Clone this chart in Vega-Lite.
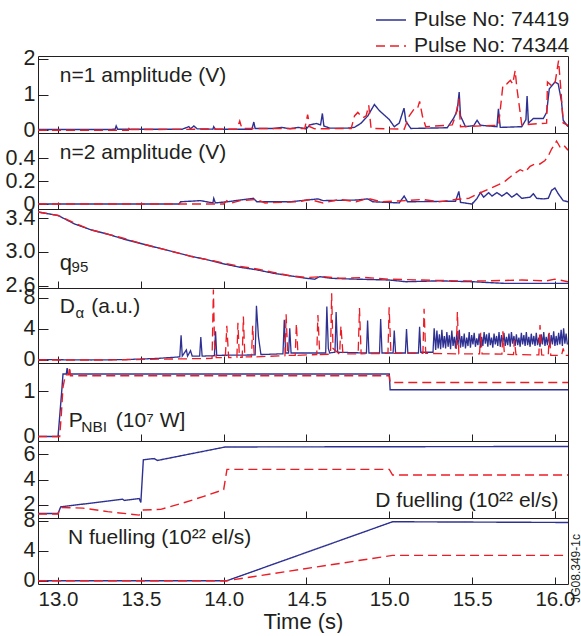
{
"$schema":"https://vega.github.io/schema/vega-lite/v6.json",
"padding":{"left":4,"top":3,"right":0,"bottom":0},
"background":"white",
"config":{
"font":"Liberation Sans",
"view":{"stroke":"#231f20","strokeWidth":1},
"axis":{"labelFont":"Liberation Sans","labelFontSize":20.5,"labelColor":"#231f20","tickColor":"#231f20","tickWidth":1,"domain":false,"grid":false,"labelOverlap":false,"titleFont":"Liberation Sans","titleFontSize":22,"titleFontWeight":"normal","titleColor":"#231f20"},
"axisY":{"tickSize":-10,"labelPadding":13,"labelFontSize":21.5},
"axisX":{"tickSize":-7,"labelPadding":12},
"legend":{"labelFont":"Liberation Sans","labelFontSize":21,"labelColor":"#231f20","symbolType":"stroke","symbolSize":900,"symbolStrokeWidth":1.5,"rowPadding":-6,"labelOffset":7}
},
"data":{"values":[
{"p":"n1","s":"74419","t":12.879,"v":0.02},{"p":"n1","s":"74419","t":13.3,"v":0.02},{"p":"n1","s":"74419","t":13.345,"v":0.03},{"p":"n1","s":"74419","t":13.351,"v":0.12},{"p":"n1","s":"74419","t":13.36,"v":0.03},{"p":"n1","s":"74419","t":13.75,"v":0.03},{"p":"n1","s":"74419","t":13.79,"v":0.1},{"p":"n1","s":"74419","t":13.8,"v":0.04},{"p":"n1","s":"74419","t":13.82,"v":0.12},{"p":"n1","s":"74419","t":13.84,"v":0.04},{"p":"n1","s":"74419","t":13.935,"v":0.03},{"p":"n1","s":"74419","t":13.94,"v":0.1},{"p":"n1","s":"74419","t":13.95,"v":0.03},{"p":"n1","s":"74419","t":14.17,"v":0.03},{"p":"n1","s":"74419","t":14.182,"v":0.23},{"p":"n1","s":"74419","t":14.19,"v":0.05},{"p":"n1","s":"74419","t":14.3,"v":0.05},{"p":"n1","s":"74419","t":14.35,"v":0.08},{"p":"n1","s":"74419","t":14.4,"v":0.04},{"p":"n1","s":"74419","t":14.45,"v":0.08},{"p":"n1","s":"74419","t":14.5,"v":0.04},{"p":"n1","s":"74419","t":14.52,"v":0.15},{"p":"n1","s":"74419","t":14.56,"v":0.19},{"p":"n1","s":"74419","t":14.585,"v":0.15},{"p":"n1","s":"74419","t":14.596,"v":0.47},{"p":"n1","s":"74419","t":14.605,"v":0.12},{"p":"n1","s":"74419","t":14.64,"v":0.06},{"p":"n1","s":"74419","t":14.75,"v":0.06},{"p":"n1","s":"74419","t":14.79,"v":0.08},{"p":"n1","s":"74419","t":14.83,"v":0.2},{"p":"n1","s":"74419","t":14.87,"v":0.4},{"p":"n1","s":"74419","t":14.91,"v":0.72},{"p":"n1","s":"74419","t":14.94,"v":0.55},{"p":"n1","s":"74419","t":15.0,"v":0.3},{"p":"n1","s":"74419","t":15.03,"v":0.1},{"p":"n1","s":"74419","t":15.06,"v":0.2},{"p":"n1","s":"74419","t":15.089,"v":0.62},{"p":"n1","s":"74419","t":15.1,"v":0.25},{"p":"n1","s":"74419","t":15.13,"v":0.05},{"p":"n1","s":"74419","t":15.35,"v":0.07},{"p":"n1","s":"74419","t":15.39,"v":0.35},{"p":"n1","s":"74419","t":15.41,"v":0.55},{"p":"n1","s":"74419","t":15.422,"v":1.07},{"p":"n1","s":"74419","t":15.43,"v":0.4},{"p":"n1","s":"74419","t":15.46,"v":0.1},{"p":"n1","s":"74419","t":15.51,"v":0.13},{"p":"n1","s":"74419","t":15.53,"v":0.28},{"p":"n1","s":"74419","t":15.55,"v":0.14},{"p":"n1","s":"74419","t":15.65,"v":0.1},{"p":"n1","s":"74419","t":15.659,"v":0.6},{"p":"n1","s":"74419","t":15.67,"v":0.08},{"p":"n1","s":"74419","t":15.8,"v":0.1},{"p":"n1","s":"74419","t":15.825,"v":0.3},{"p":"n1","s":"74419","t":15.832,"v":0.96},{"p":"n1","s":"74419","t":15.84,"v":0.2},{"p":"n1","s":"74419","t":15.87,"v":0.33},{"p":"n1","s":"74419","t":15.93,"v":0.33},{"p":"n1","s":"74419","t":15.95,"v":0.5},{"p":"n1","s":"74419","t":15.966,"v":1.16},{"p":"n1","s":"74419","t":16.0,"v":1.35},{"p":"n1","s":"74419","t":16.02,"v":1.3},{"p":"n1","s":"74419","t":16.04,"v":0.8},{"p":"n1","s":"74419","t":16.05,"v":0.28},{"p":"n1","s":"74419","t":16.079,"v":0.1},
{"p":"n1","s":"74344","t":12.879,"v":0.0},{"p":"n1","s":"74344","t":13.425,"v":0.0},{"p":"n1","s":"74344","t":13.432,"v":0.12},{"p":"n1","s":"74344","t":13.44,"v":0.02},{"p":"n1","s":"74344","t":14.08,"v":0.03},{"p":"n1","s":"74344","t":14.097,"v":0.26},{"p":"n1","s":"74344","t":14.11,"v":0.05},{"p":"n1","s":"74344","t":14.49,"v":0.05},{"p":"n1","s":"74344","t":14.507,"v":0.44},{"p":"n1","s":"74344","t":14.52,"v":0.1},{"p":"n1","s":"74344","t":14.55,"v":0.04},{"p":"n1","s":"74344","t":14.77,"v":0.05},{"p":"n1","s":"74344","t":14.79,"v":0.4},{"p":"n1","s":"74344","t":14.81,"v":0.5},{"p":"n1","s":"74344","t":14.84,"v":0.35},{"p":"n1","s":"74344","t":14.86,"v":0.4},{"p":"n1","s":"74344","t":14.876,"v":0.7},{"p":"n1","s":"74344","t":14.89,"v":0.05},{"p":"n1","s":"74344","t":15.09,"v":0.03},{"p":"n1","s":"74344","t":15.12,"v":0.4},{"p":"n1","s":"74344","t":15.149,"v":0.59},{"p":"n1","s":"74344","t":15.17,"v":0.6},{"p":"n1","s":"74344","t":15.183,"v":0.81},{"p":"n1","s":"74344","t":15.2,"v":0.4},{"p":"n1","s":"74344","t":15.22,"v":0.1},{"p":"n1","s":"74344","t":15.38,"v":0.15},{"p":"n1","s":"74344","t":15.4,"v":0.4},{"p":"n1","s":"74344","t":15.42,"v":0.88},{"p":"n1","s":"74344","t":15.43,"v":0.1},{"p":"n1","s":"74344","t":15.66,"v":0.14},{"p":"n1","s":"74344","t":15.686,"v":1.26},{"p":"n1","s":"74344","t":15.71,"v":1.3},{"p":"n1","s":"74344","t":15.731,"v":1.4},{"p":"n1","s":"74344","t":15.745,"v":1.3},{"p":"n1","s":"74344","t":15.76,"v":1.67},{"p":"n1","s":"74344","t":15.77,"v":1.2},{"p":"n1","s":"74344","t":15.8,"v":0.15},{"p":"n1","s":"74344","t":15.95,"v":0.2},{"p":"n1","s":"74344","t":15.955,"v":1.35},{"p":"n1","s":"74344","t":15.98,"v":1.25},{"p":"n1","s":"74344","t":16.0,"v":1.3},{"p":"n1","s":"74344","t":16.022,"v":1.95},{"p":"n1","s":"74344","t":16.035,"v":1.2},{"p":"n1","s":"74344","t":16.05,"v":0.2},{"p":"n1","s":"74344","t":16.079,"v":0.14},
{"p":"n2","s":"74419","t":12.879,"v":0.0},{"p":"n2","s":"74419","t":13.73,"v":0.0},{"p":"n2","s":"74419","t":13.74,"v":0.02},{"p":"n2","s":"74419","t":13.86,"v":0.03},{"p":"n2","s":"74419","t":13.935,"v":0.01},{"p":"n2","s":"74419","t":13.94,"v":0.05},{"p":"n2","s":"74419","t":13.95,"v":0.01},{"p":"n2","s":"74419","t":14.02,"v":0.02},{"p":"n2","s":"74419","t":14.18,"v":0.05},{"p":"n2","s":"74419","t":14.2,"v":0.02},{"p":"n2","s":"74419","t":14.4,"v":0.02},{"p":"n2","s":"74419","t":14.57,"v":0.045},{"p":"n2","s":"74419","t":14.6,"v":0.03},{"p":"n2","s":"74419","t":14.8,"v":0.035},{"p":"n2","s":"74419","t":14.87,"v":0.045},{"p":"n2","s":"74419","t":14.9,"v":0.02},{"p":"n2","s":"74419","t":15.06,"v":0.01},{"p":"n2","s":"74419","t":15.09,"v":0.07},{"p":"n2","s":"74419","t":15.11,"v":0.02},{"p":"n2","s":"74419","t":15.4,"v":0.025},{"p":"n2","s":"74419","t":15.42,"v":0.11},{"p":"n2","s":"74419","t":15.43,"v":0.015},{"p":"n2","s":"74419","t":15.5,"v":0.0},{"p":"n2","s":"74419","t":15.53,"v":0.05},{"p":"n2","s":"74419","t":15.55,"v":0.1},{"p":"n2","s":"74419","t":15.57,"v":0.06},{"p":"n2","s":"74419","t":15.6,"v":0.1},{"p":"n2","s":"74419","t":15.62,"v":0.07},{"p":"n2","s":"74419","t":15.65,"v":0.1},{"p":"n2","s":"74419","t":15.68,"v":0.07},{"p":"n2","s":"74419","t":15.71,"v":0.1},{"p":"n2","s":"74419","t":15.74,"v":0.06},{"p":"n2","s":"74419","t":15.77,"v":0.09},{"p":"n2","s":"74419","t":15.8,"v":0.05},{"p":"n2","s":"74419","t":15.85,"v":0.06},{"p":"n2","s":"74419","t":15.87,"v":0.09},{"p":"n2","s":"74419","t":15.89,"v":0.05},{"p":"n2","s":"74419","t":15.93,"v":0.045},{"p":"n2","s":"74419","t":15.96,"v":0.05},{"p":"n2","s":"74419","t":15.98,"v":0.12},{"p":"n2","s":"74419","t":16.0,"v":0.14},{"p":"n2","s":"74419","t":16.02,"v":0.09},{"p":"n2","s":"74419","t":16.05,"v":0.03},{"p":"n2","s":"74419","t":16.079,"v":0.02},
{"p":"n2","s":"74344","t":12.879,"v":0.0},{"p":"n2","s":"74344","t":14.0,"v":0.0},{"p":"n2","s":"74344","t":14.02,"v":0.03},{"p":"n2","s":"74344","t":14.05,"v":0.01},{"p":"n2","s":"74344","t":14.1,"v":0.03},{"p":"n2","s":"74344","t":14.2,"v":0.04},{"p":"n2","s":"74344","t":14.25,"v":0.01},{"p":"n2","s":"74344","t":14.45,"v":0.02},{"p":"n2","s":"74344","t":14.52,"v":0.04},{"p":"n2","s":"74344","t":14.6,"v":0.01},{"p":"n2","s":"74344","t":14.7,"v":0.04},{"p":"n2","s":"74344","t":14.8,"v":0.02},{"p":"n2","s":"74344","t":14.87,"v":0.05},{"p":"n2","s":"74344","t":14.95,"v":0.02},{"p":"n2","s":"74344","t":15.1,"v":0.03},{"p":"n2","s":"74344","t":15.2,"v":0.04},{"p":"n2","s":"74344","t":15.3,"v":0.02},{"p":"n2","s":"74344","t":15.4,"v":0.04},{"p":"n2","s":"74344","t":15.48,"v":0.05},{"p":"n2","s":"74344","t":15.52,"v":0.08},{"p":"n2","s":"74344","t":15.6,"v":0.13},{"p":"n2","s":"74344","t":15.66,"v":0.17},{"p":"n2","s":"74344","t":15.7,"v":0.2},{"p":"n2","s":"74344","t":15.75,"v":0.26},{"p":"n2","s":"74344","t":15.79,"v":0.3},{"p":"n2","s":"74344","t":15.82,"v":0.28},{"p":"n2","s":"74344","t":15.85,"v":0.33},{"p":"n2","s":"74344","t":15.88,"v":0.35},{"p":"n2","s":"74344","t":15.91,"v":0.35},{"p":"n2","s":"74344","t":15.94,"v":0.38},{"p":"n2","s":"74344","t":15.96,"v":0.42},{"p":"n2","s":"74344","t":15.98,"v":0.48},{"p":"n2","s":"74344","t":16.01,"v":0.55},{"p":"n2","s":"74344","t":16.03,"v":0.5},{"p":"n2","s":"74344","t":16.05,"v":0.52},{"p":"n2","s":"74344","t":16.079,"v":0.47},
{"p":"q","s":"74419","t":12.879,"v":3.47},{"p":"q","s":"74419","t":13.0,"v":3.43},{"p":"q","s":"74419","t":13.1,"v":3.33},{"p":"q","s":"74419","t":13.2,"v":3.26},{"p":"q","s":"74419","t":13.3,"v":3.21},{"p":"q","s":"74419","t":13.4,"v":3.15},{"p":"q","s":"74419","t":13.5,"v":3.1},{"p":"q","s":"74419","t":13.6,"v":3.05},{"p":"q","s":"74419","t":13.7,"v":3.0},{"p":"q","s":"74419","t":13.8,"v":2.95},{"p":"q","s":"74419","t":13.9,"v":2.91},{"p":"q","s":"74419","t":14.0,"v":2.86},{"p":"q","s":"74419","t":14.1,"v":2.82},{"p":"q","s":"74419","t":14.2,"v":2.79},{"p":"q","s":"74419","t":14.3,"v":2.75},{"p":"q","s":"74419","t":14.4,"v":2.72},{"p":"q","s":"74419","t":14.5,"v":2.69},{"p":"q","s":"74419","t":14.55,"v":2.68},{"p":"q","s":"74419","t":14.58,"v":2.71},{"p":"q","s":"74419","t":14.65,"v":2.69},{"p":"q","s":"74419","t":14.8,"v":2.68},{"p":"q","s":"74419","t":15.0,"v":2.67},{"p":"q","s":"74419","t":15.1,"v":2.65},{"p":"q","s":"74419","t":15.3,"v":2.66},{"p":"q","s":"74419","t":15.5,"v":2.65},{"p":"q","s":"74419","t":15.7,"v":2.63},{"p":"q","s":"74419","t":15.9,"v":2.63},{"p":"q","s":"74419","t":16.079,"v":2.63},
{"p":"q","s":"74344","t":12.879,"v":3.47},{"p":"q","s":"74344","t":13.0,"v":3.43},{"p":"q","s":"74344","t":13.1,"v":3.34},{"p":"q","s":"74344","t":13.2,"v":3.26},{"p":"q","s":"74344","t":13.3,"v":3.21},{"p":"q","s":"74344","t":13.4,"v":3.16},{"p":"q","s":"74344","t":13.5,"v":3.1},{"p":"q","s":"74344","t":13.6,"v":3.05},{"p":"q","s":"74344","t":13.7,"v":3.0},{"p":"q","s":"74344","t":13.8,"v":2.95},{"p":"q","s":"74344","t":13.9,"v":2.91},{"p":"q","s":"74344","t":14.0,"v":2.87},{"p":"q","s":"74344","t":14.1,"v":2.83},{"p":"q","s":"74344","t":14.2,"v":2.8},{"p":"q","s":"74344","t":14.3,"v":2.76},{"p":"q","s":"74344","t":14.4,"v":2.72},{"p":"q","s":"74344","t":14.5,"v":2.7},{"p":"q","s":"74344","t":14.6,"v":2.71},{"p":"q","s":"74344","t":14.7,"v":2.69},{"p":"q","s":"74344","t":14.85,"v":2.7},{"p":"q","s":"74344","t":15.0,"v":2.68},{"p":"q","s":"74344","t":15.2,"v":2.67},{"p":"q","s":"74344","t":15.4,"v":2.66},{"p":"q","s":"74344","t":15.6,"v":2.66},{"p":"q","s":"74344","t":15.8,"v":2.67},{"p":"q","s":"74344","t":15.95,"v":2.66},{"p":"q","s":"74344","t":16.0,"v":2.68},{"p":"q","s":"74344","t":16.079,"v":2.65},
{"p":"da","s":"74419","t":12.879,"v":0.05},{"p":"da","s":"74419","t":13.2,"v":0.0},{"p":"da","s":"74419","t":13.4,"v":0.05},{"p":"da","s":"74419","t":13.6,"v":0.2},{"p":"da","s":"74419","t":13.735,"v":0.4},{"p":"da","s":"74419","t":13.743,"v":3.2},{"p":"da","s":"74419","t":13.75,"v":0.5},{"p":"da","s":"74419","t":13.775,"v":1.3},{"p":"da","s":"74419","t":13.782,"v":0.5},{"p":"da","s":"74419","t":13.8,"v":1.2},{"p":"da","s":"74419","t":13.81,"v":0.5},{"p":"da","s":"74419","t":13.855,"v":0.5},{"p":"da","s":"74419","t":13.862,"v":2.95},{"p":"da","s":"74419","t":13.87,"v":0.5},{"p":"da","s":"74419","t":13.944,"v":0.55},{"p":"da","s":"74419","t":13.951,"v":3.7},{"p":"da","s":"74419","t":13.958,"v":0.6},{"p":"da","s":"74419","t":14.19,"v":0.65},{"p":"da","s":"74419","t":14.198,"v":7.0},{"p":"da","s":"74419","t":14.21,"v":3.0},{"p":"da","s":"74419","t":14.225,"v":0.7},{"p":"da","s":"74419","t":14.358,"v":0.8},{"p":"da","s":"74419","t":14.366,"v":5.2},{"p":"da","s":"74419","t":14.374,"v":0.9},{"p":"da","s":"74419","t":14.392,"v":0.9},{"p":"da","s":"74419","t":14.399,"v":4.1},{"p":"da","s":"74419","t":14.407,"v":0.9},{"p":"da","s":"74419","t":14.616,"v":0.9},{"p":"da","s":"74419","t":14.623,"v":6.9},{"p":"da","s":"74419","t":14.632,"v":1.5},{"p":"da","s":"74419","t":14.64,"v":0.9},{"p":"da","s":"74419","t":14.672,"v":1.0},{"p":"da","s":"74419","t":14.679,"v":6.2},{"p":"da","s":"74419","t":14.688,"v":1.0},{"p":"da","s":"74419","t":14.862,"v":0.9},{"p":"da","s":"74419","t":14.869,"v":5.1},{"p":"da","s":"74419","t":14.877,"v":0.9},{"p":"da","s":"74419","t":14.941,"v":0.9},{"p":"da","s":"74419","t":14.948,"v":5.3},{"p":"da","s":"74419","t":14.956,"v":0.9},{"p":"da","s":"74419","t":15.023,"v":0.9},{"p":"da","s":"74419","t":15.03,"v":3.8},{"p":"da","s":"74419","t":15.038,"v":0.9},{"p":"da","s":"74419","t":15.097,"v":0.9},{"p":"da","s":"74419","t":15.104,"v":4.0},{"p":"da","s":"74419","t":15.112,"v":0.9},{"p":"da","s":"74419","t":15.176,"v":0.9},{"p":"da","s":"74419","t":15.183,"v":4.3},{"p":"da","s":"74419","t":15.19,"v":1.0},{"p":"da","s":"74419","t":15.264,"v":1.0},{"p":"da","s":"74419","t":15.271,"v":4.1},
{"p":"da","s":"74419","t":15.28,"v":1.3},{"p":"da","s":"74419","t":15.2875,"v":3.8},{"p":"da","s":"74419","t":15.295,"v":1.5},{"p":"da","s":"74419","t":15.3025,"v":3.3},{"p":"da","s":"74419","t":15.31,"v":1.4},{"p":"da","s":"74419","t":15.3175,"v":3.9},{"p":"da","s":"74419","t":15.325,"v":1.6},{"p":"da","s":"74419","t":15.3325,"v":3.1},{"p":"da","s":"74419","t":15.34,"v":1.5},{"p":"da","s":"74419","t":15.3475,"v":3.6},{"p":"da","s":"74419","t":15.355,"v":1.7},{"p":"da","s":"74419","t":15.3625,"v":3.2},{"p":"da","s":"74419","t":15.37,"v":1.4},{"p":"da","s":"74419","t":15.3775,"v":3.8},{"p":"da","s":"74419","t":15.385,"v":1.8},{"p":"da","s":"74419","t":15.3925,"v":3.0},{"p":"da","s":"74419","t":15.4,"v":1.5},{"p":"da","s":"74419","t":15.4075,"v":3.5},{"p":"da","s":"74419","t":15.415,"v":1.9},{"p":"da","s":"74419","t":15.4225,"v":3.9},{"p":"da","s":"74419","t":15.43,"v":1.6},{"p":"da","s":"74419","t":15.4375,"v":3.1},{"p":"da","s":"74419","t":15.445,"v":1.7},{"p":"da","s":"74419","t":15.4525,"v":3.4},{"p":"da","s":"74419","t":15.46,"v":1.5},{"p":"da","s":"74419","t":15.4675,"v":2.9},{"p":"da","s":"74419","t":15.475,"v":1.8},{"p":"da","s":"74419","t":15.4825,"v":3.6},{"p":"da","s":"74419","t":15.49,"v":1.6},{"p":"da","s":"74419","t":15.4975,"v":3.2},{"p":"da","s":"74419","t":15.505,"v":2.0},{"p":"da","s":"74419","t":15.5125,"v":3.5},{"p":"da","s":"74419","t":15.52,"v":1.7},{"p":"da","s":"74419","t":15.5275,"v":2.8},{"p":"da","s":"74419","t":15.535,"v":1.9},{"p":"da","s":"74419","t":15.5425,"v":3.4},{"p":"da","s":"74419","t":15.55,"v":1.6},{"p":"da","s":"74419","t":15.5575,"v":3.0},{"p":"da","s":"74419","t":15.565,"v":1.8},{"p":"da","s":"74419","t":15.5725,"v":3.6},{"p":"da","s":"74419","t":15.58,"v":2.1},{"p":"da","s":"74419","t":15.5875,"v":3.3},{"p":"da","s":"74419","t":15.595,"v":1.7},{"p":"da","s":"74419","t":15.6025,"v":3.5},{"p":"da","s":"74419","t":15.61,"v":1.9},{"p":"da","s":"74419","t":15.6175,"v":2.9},{"p":"da","s":"74419","t":15.625,"v":1.6},{"p":"da","s":"74419","t":15.6325,"v":3.4},{"p":"da","s":"74419","t":15.64,"v":2.0},{"p":"da","s":"74419","t":15.6475,"v":3.1},{"p":"da","s":"74419","t":15.655,"v":1.8},{"p":"da","s":"74419","t":15.6625,"v":3.6},{"p":"da","s":"74419","t":15.67,"v":1.7},{"p":"da","s":"74419","t":15.6775,"v":3.2},{"p":"da","s":"74419","t":15.685,"v":2.0},{"p":"da","s":"74419","t":15.6925,"v":3.5},{"p":"da","s":"74419","t":15.7,"v":1.8},{"p":"da","s":"74419","t":15.7075,"v":3.0},{"p":"da","s":"74419","t":15.715,"v":1.9},{"p":"da","s":"74419","t":15.7225,"v":3.4},{"p":"da","s":"74419","t":15.73,"v":1.7},{"p":"da","s":"74419","t":15.7375,"v":3.6},{"p":"da","s":"74419","t":15.745,"v":2.1},{"p":"da","s":"74419","t":15.7525,"v":3.1},{"p":"da","s":"74419","t":15.76,"v":1.8},{"p":"da","s":"74419","t":15.7675,"v":3.3},{"p":"da","s":"74419","t":15.775,"v":1.9},{"p":"da","s":"74419","t":15.7825,"v":2.9},{"p":"da","s":"74419","t":15.79,"v":1.7},{"p":"da","s":"74419","t":15.7975,"v":3.5},{"p":"da","s":"74419","t":15.805,"v":2.0},{"p":"da","s":"74419","t":15.8125,"v":3.2},{"p":"da","s":"74419","t":15.82,"v":1.8},{"p":"da","s":"74419","t":15.8275,"v":3.6},{"p":"da","s":"74419","t":15.835,"v":1.9},{"p":"da","s":"74419","t":15.8425,"v":3.0},{"p":"da","s":"74419","t":15.85,"v":1.7},{"p":"da","s":"74419","t":15.8575,"v":3.4},{"p":"da","s":"74419","t":15.865,"v":2.0},{"p":"da","s":"74419","t":15.8725,"v":3.1},{"p":"da","s":"74419","t":15.88,"v":1.8},{"p":"da","s":"74419","t":15.8875,"v":3.5},{"p":"da","s":"74419","t":15.895,"v":1.9},{"p":"da","s":"74419","t":15.9025,"v":2.9},{"p":"da","s":"74419","t":15.91,"v":1.7},{"p":"da","s":"74419","t":15.9175,"v":3.3},{"p":"da","s":"74419","t":15.925,"v":2.0},{"p":"da","s":"74419","t":15.9325,"v":3.6},{"p":"da","s":"74419","t":15.94,"v":1.8},{"p":"da","s":"74419","t":15.9475,"v":3.0},{"p":"da","s":"74419","t":15.955,"v":1.9},{"p":"da","s":"74419","t":15.9625,"v":3.4},{"p":"da","s":"74419","t":15.97,"v":1.7},{"p":"da","s":"74419","t":15.9775,"v":3.2},{"p":"da","s":"74419","t":15.985,"v":2.0},{"p":"da","s":"74419","t":15.9925,"v":3.7},{"p":"da","s":"74419","t":16.0,"v":1.8},{"p":"da","s":"74419","t":16.0075,"v":3.1},{"p":"da","s":"74419","t":16.015,"v":1.9},{"p":"da","s":"74419","t":16.0225,"v":3.5},{"p":"da","s":"74419","t":16.03,"v":2.0},{"p":"da","s":"74419","t":16.0375,"v":3.9},{"p":"da","s":"74419","t":16.045,"v":1.8},{"p":"da","s":"74419","t":16.0525,"v":4.1},{"p":"da","s":"74419","t":16.06,"v":2.1},{"p":"da","s":"74419","t":16.0675,"v":3.4},{"p":"da","s":"74419","t":16.075,"v":2.0},
{"p":"da","s":"74344","t":12.879,"v":0.0},{"p":"da","s":"74344","t":13.3,"v":0.0},{"p":"da","s":"74344","t":13.6,"v":0.1},{"p":"da","s":"74344","t":13.93,"v":0.2},{"p":"da","s":"74344","t":13.938,"v":9.1},{"p":"da","s":"74344","t":13.945,"v":2.0},{"p":"da","s":"74344","t":13.955,"v":0.3},{"p":"da","s":"74344","t":14.01,"v":0.3},{"p":"da","s":"74344","t":14.019,"v":4.4},{"p":"da","s":"74344","t":14.03,"v":0.3},{"p":"da","s":"74344","t":14.08,"v":0.35},{"p":"da","s":"74344","t":14.086,"v":4.8},{"p":"da","s":"74344","t":14.095,"v":0.35},{"p":"da","s":"74344","t":14.112,"v":0.35},{"p":"da","s":"74344","t":14.119,"v":5.6},{"p":"da","s":"74344","t":14.128,"v":0.4},{"p":"da","s":"74344","t":14.168,"v":0.4},{"p":"da","s":"74344","t":14.175,"v":4.4},{"p":"da","s":"74344","t":14.185,"v":0.4},{"p":"da","s":"74344","t":14.37,"v":0.55},{"p":"da","s":"74344","t":14.377,"v":5.9},{"p":"da","s":"74344","t":14.387,"v":0.6},{"p":"da","s":"74344","t":14.432,"v":0.6},{"p":"da","s":"74344","t":14.439,"v":4.7},{"p":"da","s":"74344","t":14.449,"v":0.6},{"p":"da","s":"74344","t":14.562,"v":0.7},{"p":"da","s":"74344","t":14.569,"v":5.8},{"p":"da","s":"74344","t":14.58,"v":0.7},{"p":"da","s":"74344","t":14.645,"v":0.75},{"p":"da","s":"74344","t":14.652,"v":8.6},{"p":"da","s":"74344","t":14.66,"v":1.5},{"p":"da","s":"74344","t":14.7,"v":0.75},{"p":"da","s":"74344","t":14.708,"v":4.4},{"p":"da","s":"74344","t":14.72,"v":0.8},{"p":"da","s":"74344","t":14.812,"v":0.8},{"p":"da","s":"74344","t":14.82,"v":6.7},{"p":"da","s":"74344","t":14.83,"v":0.8},{"p":"da","s":"74344","t":14.992,"v":0.85},{"p":"da","s":"74344","t":14.999,"v":6.8},{"p":"da","s":"74344","t":15.01,"v":0.85},{"p":"da","s":"74344","t":15.203,"v":0.85},{"p":"da","s":"74344","t":15.21,"v":6.6},{"p":"da","s":"74344","t":15.22,"v":0.85},{"p":"da","s":"74344","t":15.404,"v":0.8},{"p":"da","s":"74344","t":15.411,"v":6.2},{"p":"da","s":"74344","t":15.42,"v":0.8},{"p":"da","s":"74344","t":15.545,"v":0.8},{"p":"da","s":"74344","t":15.552,"v":3.5},{"p":"da","s":"74344","t":15.56,"v":0.8},{"p":"da","s":"74344","t":15.68,"v":0.75},{"p":"da","s":"74344","t":15.686,"v":3.7},{"p":"da","s":"74344","t":15.695,"v":0.75},{"p":"da","s":"74344","t":15.75,"v":0.7},{"p":"da","s":"74344","t":15.755,"v":2.6},{"p":"da","s":"74344","t":15.765,"v":0.7},{"p":"da","s":"74344","t":15.903,"v":0.65},{"p":"da","s":"74344","t":15.91,"v":4.5},{"p":"da","s":"74344","t":15.92,"v":0.65},{"p":"da","s":"74344","t":15.96,"v":0.6},{"p":"da","s":"74344","t":15.966,"v":3.5},{"p":"da","s":"74344","t":15.975,"v":0.6},{"p":"da","s":"74344","t":16.04,"v":0.6},{"p":"da","s":"74344","t":16.05,"v":1.5},{"p":"da","s":"74344","t":16.06,"v":0.6},{"p":"da","s":"74344","t":16.079,"v":0.6},
{"p":"nbi","s":"74419","t":12.879,"v":0},{"p":"nbi","s":"74419","t":13.0,"v":0},{"p":"nbi","s":"74419","t":13.02,"v":0.9},{"p":"nbi","s":"74419","t":13.03,"v":1.39},{"p":"nbi","s":"74419","t":13.05,"v":1.39},{"p":"nbi","s":"74419","t":13.055,"v":1.52},{"p":"nbi","s":"74419","t":13.06,"v":1.39},{"p":"nbi","s":"74419","t":15.0,"v":1.39},{"p":"nbi","s":"74419","t":15.005,"v":1.04},{"p":"nbi","s":"74419","t":16.079,"v":1.04},
{"p":"nbi","s":"74344","t":12.879,"v":0},{"p":"nbi","s":"74344","t":13.01,"v":0},{"p":"nbi","s":"74344","t":13.02,"v":0.5},{"p":"nbi","s":"74344","t":13.03,"v":1.1},{"p":"nbi","s":"74344","t":13.045,"v":1.37},{"p":"nbi","s":"74344","t":13.065,"v":1.37},{"p":"nbi","s":"74344","t":13.07,"v":1.55},{"p":"nbi","s":"74344","t":13.075,"v":1.35},{"p":"nbi","s":"74344","t":15.0,"v":1.35},{"p":"nbi","s":"74344","t":15.005,"v":1.2},{"p":"nbi","s":"74344","t":16.079,"v":1.2},
{"p":"df","s":"74419","t":12.879,"v":1.33},{"p":"df","s":"74419","t":13.0,"v":1.33},{"p":"df","s":"74419","t":13.016,"v":1.85},{"p":"df","s":"74419","t":13.3,"v":2.3},{"p":"df","s":"74419","t":13.39,"v":2.45},{"p":"df","s":"74419","t":13.4,"v":2.35},{"p":"df","s":"74419","t":13.49,"v":2.5},{"p":"df","s":"74419","t":13.5,"v":2.2},{"p":"df","s":"74419","t":13.515,"v":5.55},{"p":"df","s":"74419","t":13.58,"v":5.65},{"p":"df","s":"74419","t":13.6,"v":5.5},{"p":"df","s":"74419","t":14.01,"v":6.56},{"p":"df","s":"74419","t":16.079,"v":6.6},
{"p":"df","s":"74344","t":12.879,"v":1.28},{"p":"df","s":"74344","t":13.0,"v":1.28},{"p":"df","s":"74344","t":13.016,"v":1.8},{"p":"df","s":"74344","t":13.15,"v":1.75},{"p":"df","s":"74344","t":13.3,"v":1.47},{"p":"df","s":"74344","t":13.49,"v":1.2},{"p":"df","s":"74344","t":13.515,"v":1.6},{"p":"df","s":"74344","t":13.62,"v":1.65},{"p":"df","s":"74344","t":13.75,"v":2.13},{"p":"df","s":"74344","t":13.88,"v":2.67},{"p":"df","s":"74344","t":14.0,"v":3.2},{"p":"df","s":"74344","t":14.02,"v":4.8},{"p":"df","s":"74344","t":15.0,"v":4.8},{"p":"df","s":"74344","t":15.02,"v":4.35},{"p":"df","s":"74344","t":16.079,"v":4.35},
{"p":"nf","s":"74419","t":12.879,"v":0},{"p":"nf","s":"74419","t":14.02,"v":0},{"p":"nf","s":"74419","t":15.02,"v":7.9},{"p":"nf","s":"74419","t":16.079,"v":7.8},
{"p":"nf","s":"74344","t":12.879,"v":0},{"p":"nf","s":"74344","t":14.02,"v":0},{"p":"nf","s":"74344","t":15.02,"v":3.4},{"p":"nf","s":"74344","t":16.079,"v":3.4}
]},
"bounds":"flush",
"spacing":0,
"resolve":{"scale":{"color":"independent","strokeDash":"independent"},"legend":{"color":"independent","strokeDash":"independent"}},
"vconcat":[
{"width":530,"height":77,"resolve":{"axis":{"x":"independent","y":"independent"}},"layer":[
{"transform":[{"filter":"datum.p==='n1'"}],"mark":{"type":"line","strokeWidth":1.4,"clip":true},
"encoding":{"x":{"field":"t","type":"quantitative","scale":{"domain":[12.879,16.079],"nice":false,"zero":false},"axis":{"values":[13,13.5,14,14.5,15,15.5,16],"labels":false,"title":null}},
"y":{"field":"v","type":"quantitative","scale":{"domain":[-0.077,2.08],"nice":false,"zero":false},"axis":{"values":[0,1,2],"format":"d","title":null,"labelOverlap":false}},
"color":{"field":"s","type":"nominal","scale":{"domain":["74419","74344"],"range":["#2e3192","#ed1c24"]},"legend":{"orient":"none","legendX":337,"legendY":-52,"title":null,"labelExpr":"'Pulse No: ' + datum.label"}},
"strokeDash":{"field":"s","type":"nominal","scale":{"domain":["74419","74344"],"range":[[1,0],[9,5]]},"legend":{"orient":"none","legendX":337,"legendY":-52,"title":null,"labelExpr":"'Pulse No: ' + datum.label"}}}},
{"data":{"values":[{}]},"mark":{"type":"text","text":"n=1 amplitude (V)","align":"left","baseline":"alphabetic","fontSize":21,"color":"#231f20"},"encoding":{"x":{"datum":13.011,"axis":null},"y":{"datum":1.34,"axis":null}}}
]},
{"width":530,"height":76,"resolve":{"axis":{"x":"independent","y":"independent"}},"layer":[
{"transform":[{"filter":"datum.p==='n2'"}],"mark":{"type":"line","strokeWidth":1.4,"clip":true},
"encoding":{"x":{"field":"t","type":"quantitative","scale":{"domain":[12.879,16.079],"nice":false,"zero":false},"axis":{"values":[13,13.5,14,14.5,15,15.5,16],"labels":false,"title":null}},
"y":{"field":"v","type":"quantitative","scale":{"domain":[-0.043,0.62],"nice":false,"zero":false},"axis":{"values":[0,0.2,0.4],"labelExpr":"datum.value == 0 ? '0' : format(datum.value, '.1f')","title":null,"labelOverlap":false}},
"color":{"field":"s","type":"nominal","scale":{"domain":["74419","74344"],"range":["#2e3192","#ed1c24"]},"legend":null},
"strokeDash":{"field":"s","type":"nominal","scale":{"domain":["74419","74344"],"range":[[1,0],[9,5]]},"legend":null}}},
{"data":{"values":[{}]},"mark":{"type":"text","text":"n=2 amplitude (V)","align":"left","baseline":"alphabetic","fontSize":21,"color":"#231f20"},"encoding":{"x":{"datum":13.011,"axis":null},"y":{"datum":0.39,"axis":null}}}
]},
{"width":530,"height":79,"resolve":{"axis":{"x":"independent","y":"independent"}},"layer":[
{"transform":[{"filter":"datum.p==='q'"}],"mark":{"type":"line","strokeWidth":1.4,"clip":true},
"encoding":{"x":{"field":"t","type":"quantitative","scale":{"domain":[12.879,16.079],"nice":false,"zero":false},"axis":{"values":[13,13.5,14,14.5,15,15.5,16],"labels":false,"title":null}},
"y":{"field":"v","type":"quantitative","scale":{"domain":[2.576,3.506],"nice":false,"zero":false},"axis":{"values":[2.6,3.0,3.4],"format":".1f","title":null,"labelOverlap":false}},
"color":{"field":"s","type":"nominal","scale":{"domain":["74419","74344"],"range":["#2e3192","#ed1c24"]},"legend":null},
"strokeDash":{"field":"s","type":"nominal","scale":{"domain":["74419","74344"],"range":[[1,0],[9,5]]},"legend":null}}},
{"data":{"values":[{}]},"mark":{"type":"text","text":"q","align":"left","baseline":"alphabetic","fontSize":22,"color":"#231f20"},"encoding":{"x":{"datum":13.011,"axis":null},"y":{"datum":2.79,"axis":null}}},
{"data":{"values":[{}]},"mark":{"type":"text","text":"95","align":"left","baseline":"alphabetic","fontSize":15,"color":"#231f20"},"encoding":{"x":{"datum":13.082,"axis":null},"y":{"datum":2.764,"axis":null}}}
]},
{"width":530,"height":75,"resolve":{"axis":{"x":"independent","y":"independent"}},"layer":[
{"transform":[{"filter":"datum.p==='da'"}],"mark":{"type":"line","strokeWidth":1.3,"clip":true},
"encoding":{"x":{"field":"t","type":"quantitative","scale":{"domain":[12.879,16.079],"nice":false,"zero":false},"axis":{"values":[13,13.5,14,14.5,15,15.5,16],"labels":false,"title":null}},
"y":{"field":"v","type":"quantitative","scale":{"domain":[-0.39,9.29],"nice":false,"zero":false},"axis":{"values":[0,4,8],"format":"d","title":null,"labelOverlap":false}},
"color":{"field":"s","type":"nominal","scale":{"domain":["74419","74344"],"range":["#2e3192","#ed1c24"]},"legend":null},
"strokeDash":{"field":"s","type":"nominal","scale":{"domain":["74419","74344"],"range":[[1,0],[9,5]]},"legend":null}}},
{"data":{"values":[{}]},"mark":{"type":"text","text":"D","align":"left","baseline":"alphabetic","fontSize":21,"color":"#231f20"},"encoding":{"x":{"datum":13.011,"axis":null},"y":{"datum":6.06,"axis":null}}},
{"data":{"values":[{}]},"mark":{"type":"text","text":"α","align":"left","baseline":"alphabetic","fontSize":15,"color":"#231f20"},"encoding":{"x":{"datum":13.105,"axis":null},"y":{"datum":5.4,"axis":null}}},
{"data":{"values":[{}]},"mark":{"type":"text","text":"(a.u.)","align":"left","baseline":"alphabetic","fontSize":21,"color":"#231f20"},"encoding":{"x":{"datum":13.2,"axis":null},"y":{"datum":6.06,"axis":null}}}
]},
{"width":530,"height":78,"resolve":{"axis":{"x":"independent","y":"independent"}},"layer":[
{"transform":[{"filter":"datum.p==='nbi'"}],"mark":{"type":"line","strokeWidth":1.4,"clip":true},
"encoding":{"x":{"field":"t","type":"quantitative","scale":{"domain":[12.879,16.079],"nice":false,"zero":false},"axis":{"values":[13,13.5,14,14.5,15,15.5,16],"labels":false,"title":null}},
"y":{"field":"v","type":"quantitative","scale":{"domain":[-0.1,1.633],"nice":false,"zero":false},"axis":{"values":[0,1],"format":"d","title":null,"labelOverlap":false}},
"color":{"field":"s","type":"nominal","scale":{"domain":["74419","74344"],"range":["#2e3192","#ed1c24"]},"legend":null},
"strokeDash":{"field":"s","type":"nominal","scale":{"domain":["74419","74344"],"range":[[1,0],[9,5]]},"legend":null}}},
{"data":{"values":[{}]},"mark":{"type":"text","text":"P","align":"left","baseline":"alphabetic","fontSize":21,"color":"#231f20"},"encoding":{"x":{"datum":13.065,"axis":null},"y":{"datum":0.22,"axis":null}}},
{"data":{"values":[{}]},"mark":{"type":"text","text":"NBI","align":"left","baseline":"alphabetic","fontSize":15.5,"color":"#231f20"},"encoding":{"x":{"datum":13.14,"axis":null},"y":{"datum":0.11,"axis":null}}},
{"data":{"values":[{}]},"mark":{"type":"text","text":"(10⁷ W]","align":"left","baseline":"alphabetic","fontSize":21,"color":"#231f20"},"encoding":{"x":{"datum":13.349,"axis":null},"y":{"datum":0.22,"axis":null}}}
]},
{"width":530,"height":77,"resolve":{"axis":{"x":"independent","y":"independent"}},"layer":[
{"transform":[{"filter":"datum.p==='df'"}],"mark":{"type":"line","strokeWidth":1.4,"clip":true},
"encoding":{"x":{"field":"t","type":"quantitative","scale":{"domain":[12.879,16.079],"nice":false,"zero":false},"axis":{"values":[13,13.5,14,14.5,15,15.5,16],"labels":false,"title":null}},
"y":{"field":"v","type":"quantitative","scale":{"domain":[0.97,7.03],"nice":false,"zero":false},"axis":{"values":[2,4,6],"format":"d","title":null,"labelOverlap":false}},
"color":{"field":"s","type":"nominal","scale":{"domain":["74419","74344"],"range":["#2e3192","#ed1c24"]},"legend":null},
"strokeDash":{"field":"s","type":"nominal","scale":{"domain":["74419","74344"],"range":[[1,0],[9,5]]},"legend":null}}},
{"data":{"values":[{}]},"mark":{"type":"text","text":"D fuelling (10²² el/s)","align":"right","baseline":"alphabetic","fontSize":21,"color":"#231f20"},"encoding":{"x":{"datum":16.022,"axis":null},"y":{"datum":1.81,"axis":null}}}
]},
{"width":530,"height":66,"resolve":{"axis":{"x":"independent","y":"independent"}},"layer":[
{"transform":[{"filter":"datum.p==='nf'"}],"mark":{"type":"line","strokeWidth":1.4,"clip":true},
"encoding":{"x":{"field":"t","type":"quantitative","scale":{"domain":[12.879,16.079],"nice":false,"zero":false},"axis":{"values":[13,13.5,14,14.5,15,15.5,16],"format":".1f","title":"Time (s)","titlePadding":2,"labelOverlap":false}},
"y":{"field":"v","type":"quantitative","scale":{"domain":[-0.44,8.4],"nice":false,"zero":false},"axis":{"values":[0,4,8],"format":"d","title":null,"labelOverlap":false}},
"color":{"field":"s","type":"nominal","scale":{"domain":["74419","74344"],"range":["#2e3192","#ed1c24"]},"legend":null},
"strokeDash":{"field":"s","type":"nominal","scale":{"domain":["74419","74344"],"range":[[1,0],[9,5]]},"legend":null}}},
{"data":{"values":[{}]},"mark":{"type":"text","text":"N fuelling (10²² el/s)","align":"left","baseline":"alphabetic","fontSize":21,"color":"#231f20"},"encoding":{"x":{"datum":13.06,"axis":null},"y":{"datum":4.92,"axis":null}}},
{"data":{"values":[{}]},"mark":{"type":"text","text":"JG08.349-1c","align":"left","baseline":"top","angle":270,"dy":3,"fontSize":12,"color":"#231f20"},"encoding":{"x":{"datum":16.079,"axis":null},"y":{"datum":-2.95,"axis":null}}}
]}
]
}
